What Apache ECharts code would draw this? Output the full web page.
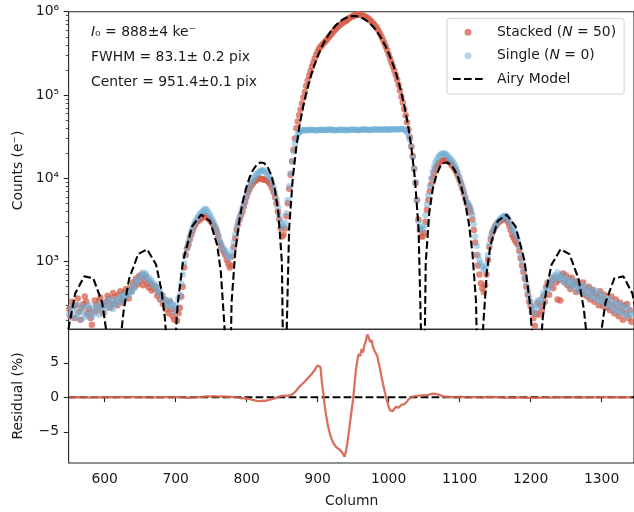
<!DOCTYPE html>
<html lang="en">
<head>
<meta charset="UTF-8">
<title>Airy profile fit</title>
<script src="https://cdn.jsdelivr.net/npm/echarts@6/dist/echarts.min.js"></script>
<style>
  html, body { margin: 0; padding: 0; background: #fff; }
  #main { width: 634px; height: 512px; }
</style>
</head>
<body>
<div id="main"></div>
<script>
  // measured profiles, one value every 2nd column starting at 550
  const colStart = 550, colStep = 2;

  // stacked frames (N = 50), counts in e-
  const stacked = [
    270, 220, 330, 290, 210, 300, 360, 250, 200, 280, 310, 380, 330, 240, 270, 210, 175, 250, 340, 300,
    260, 340, 370, 290, 240, 300, 330, 390, 360, 280, 310, 420, 380, 330, 300, 400, 440, 350, 320, 430,
    470, 420, 360, 480, 440, 560, 500, 620, 530, 660, 580, 700, 520, 610, 660, 540, 490, 560, 450, 520,
    470, 500, 390, 430, 350, 400, 310, 350, 270, 320, 240, 330, 270, 220, 200, 260, 195, 240, 280, 380,
    500, 850, 1200, 1450, 1600, 1850, 2100, 2350, 2600, 2800, 3000, 3100, 3200, 3300, 3400, 3550, 3500, 3400, 3300, 3150,
    3000, 2850, 2700, 2500, 2300, 2000, 1700, 1550, 1400, 1300, 1200, 1050, 950, 850, 900, 1150, 1500, 1900, 2400, 2800,
    3200, 3600, 4000, 4600, 5200, 6000, 6800, 7400, 8000, 8500, 9000, 9300, 9600, 9800, 10000, 9900, 9800, 9600, 9700, 9500,
    9200, 8800, 8300, 7600, 6800, 5900, 5000, 4000, 3200, 2500, 2000, 2100, 2500, 3500, 5000, 7500, 11000, 16000, 22000, 30000,
    40000, 48000, 57000, 67000, 79000, 93000, 109000, 128000, 148000, 170000, 193000, 219000, 246000, 274000, 303000, 332000, 360000, 380000, 396000, 414000,
    432000, 452000, 474000, 498000, 523000, 548000, 573000, 600000, 626000, 652000, 677000, 699000, 721000, 740000, 759000, 780000, 801000, 827000, 851000, 869000,
    884000, 905000, 922000, 925000, 924000, 918000, 909000, 897000, 882000, 865000, 846000, 820000, 792000, 759000, 725000, 695000, 664000, 626000, 586000, 544000,
    502000, 461000, 420000, 381000, 344000, 308000, 275000, 246000, 220000, 197000, 175000, 153000, 133000, 113000, 95000, 81000, 68000, 57000, 47000, 38500,
    31000, 24000, 18500, 13000, 8800, 5500, 3200, 2400, 2000, 2000, 2200, 3000, 4200, 5500, 7000, 8500, 10000, 11500, 13000, 14000,
    15000, 15500, 16000, 16300, 16500, 16600, 16500, 16000, 15500, 14800, 14000, 13300, 12500, 11500, 10500, 9500, 8500, 7500, 6500, 5700,
    5000, 4700, 4400, 3900, 3200, 2400, 1700, 1200, 900, 700, 550, 480, 430, 520, 700, 1050, 1500, 1850, 2200, 2400,
    2600, 2750, 2900, 3000, 3100, 3200, 3300, 3250, 3200, 3000, 2700, 2400, 2100, 1950, 1800, 1700, 1600, 1350, 1100, 900,
    750, 620, 500, 400, 330, 290, 250, 210, 170, 240, 320, 230, 300, 260, 380, 330, 500, 560, 400, 520,
    600, 480, 650, 560, 350, 600, 340, 680, 720, 560, 680, 520, 620, 470, 640, 520, 560, 430, 580, 460,
    500, 430, 560, 400, 470, 380, 500, 350, 420, 460, 330, 400, 380, 300, 440, 350, 290, 400, 330, 280,
    320, 260, 380, 300, 240, 350, 280, 220, 320, 260, 200, 300, 240, 310, 210, 260, 190
  ];

  // single frame (N = 0), saturated in the core
  const single = [
    230, 280, 210, 260, 300, 220, 240, 300, 200, 250, 280, 215, 230, 290, 300, 240, 215, 270, 240, 300,
    280, 230, 270, 320, 290, 250, 300, 340, 280, 350, 300, 270, 320, 350, 310, 360, 330, 390, 400, 350,
    380, 420, 400, 450, 430, 510, 480, 560, 600, 590, 680, 660, 740, 690, 720, 610, 650, 580, 600, 520,
    540, 470, 500, 420, 430, 360, 390, 320, 350, 290, 320, 340, 290, 310, 250, 300, 280, 360, 400, 540,
    700, 950, 1200, 1450, 1700, 2000, 2300, 2550, 2800, 3050, 3300, 3500, 3700, 3850, 4000, 4200, 4300, 4150, 3900, 3650,
    3400, 3150, 2900, 2650, 2400, 2100, 1800, 1650, 1500, 1400, 1350, 1250, 1150, 1100, 1200, 1400, 1700, 2100, 2600, 3000,
    3400, 3850, 4300, 4900, 5600, 6400, 7200, 8000, 8800, 9400, 10000, 10600, 11200, 11600, 12000, 12300, 12500, 12400, 12000, 11500,
    11000, 10400, 9800, 8800, 7800, 6700, 5600, 4500, 3600, 3000, 2600, 2700, 2900, 3800, 5500, 8000, 11500, 16000, 21000, 26000,
    30000, 33500, 35500, 36800, 37500, 37900, 38000, 37700, 37800, 38100, 38200, 38000, 38000, 37800, 37600, 37900, 38100, 38300, 38300, 38100,
    37900, 38000, 38200, 38300, 38400, 38200, 38000, 37800, 37700, 37900, 38100, 38200, 38300, 38100, 38000, 37900, 37800, 38000, 38200, 38300,
    38400, 38200, 38100, 38000, 37900, 38100, 38200, 38400, 38500, 38400, 38300, 38100, 38000, 38200, 38400, 38500, 38600, 38400, 38200, 38300,
    38500, 38600, 38700, 38500, 38300, 38400, 38600, 38800, 38900, 38700, 38500, 38600, 38800, 38900, 39000, 38800, 38400, 37500, 36000, 33000,
    29500, 24000, 18000, 13000, 9000, 5500, 3000, 2600, 2400, 2500, 2700, 3600, 4800, 6300, 8000, 10000, 12000, 13800, 15500, 16800,
    18000, 18800, 19500, 19800, 20000, 19600, 19000, 18300, 17500, 16800, 16000, 15000, 14000, 12800, 11500, 10200, 9000, 8000, 7000, 6000,
    5200, 5000, 4700, 4200, 3600, 2800, 2000, 1550, 1200, 1050, 950, 870, 800, 820, 900, 1200, 1600, 2000, 2300, 2500,
    2700, 2850, 3000, 3150, 3300, 3400, 3500, 3550, 3500, 3300, 3100, 2800, 2500, 2350, 2200, 2000, 1800, 1500, 1200, 1000,
    800, 650, 550, 450, 380, 330, 290, 270, 240, 300, 340, 280, 350, 330, 420, 400, 480, 450, 560, 500,
    640, 580, 690, 620, 740, 640, 700, 610, 660, 560, 620, 540, 610, 500, 560, 520, 590, 470, 520, 450,
    530, 440, 490, 420, 500, 400, 450, 380, 460, 370, 420, 360, 440, 340, 400, 330, 380, 310, 360, 300,
    360, 290, 330, 270, 320, 250, 300, 260, 310, 240, 280, 230, 290, 220, 270, 240, 230
  ];

  // residual of the stacked profile, % of peak
  const residual = [
    0.02, 0.00, -0.03, -0.01, 0.01, 0.02, 0.03, 0.00, -0.02, -0.01, 0.00, 0.01, 0.02, -0.01, -0.04, -0.03, -0.02, 0.00, 0.01, 0.02,
    0.03, 0.01, 0.00, -0.01, -0.02, 0.00, 0.02, 0.03, 0.04, 0.02, 0.01, 0.00, -0.01, 0.01, 0.03, 0.04, 0.05, 0.03, 0.02, 0.01,
    0.00, 0.02, 0.03, 0.04, 0.05, 0.05, 0.04, 0.03, 0.02, 0.01, 0.00, -0.01, -0.02, 0.00, 0.01, -0.01, -0.03, -0.04, -0.05, -0.03,
    -0.02, -0.01, 0.00, 0.01, 0.02, 0.02, 0.01, 0.02, 0.03, 0.02, 0.02, 0.01, 0.00, 0.01, 0.02, 0.03, 0.04, 0.03, 0.03, 0.01,
    0.00, -0.02, -0.03, -0.05, -0.06, -0.05, -0.04, -0.03, -0.02, -0.01, 0.00, 0.02, 0.04, 0.06, 0.08, 0.10, 0.12, 0.14, 0.15, 0.15,
    0.14, 0.15, 0.16, 0.14, 0.12, 0.11, 0.10, 0.12, 0.13, 0.12, 0.11, 0.10, 0.08, 0.07, 0.06, 0.05, 0.03, 0.01, -0.02, -0.05,
    -0.08, -0.11, -0.14, -0.13, -0.12, -0.15, -0.18, -0.24, -0.30, -0.36, -0.42, -0.46, -0.50, -0.53, -0.55, -0.54, -0.52, -0.51, -0.50, -0.47,
    -0.42, -0.36, -0.30, -0.24, -0.18, -0.11, -0.05, 0.03, 0.10, 0.15, 0.20, 0.22, 0.24, 0.25, 0.26, 0.28, 0.30, 0.40, 0.55, 0.75,
    1.0, 1.25, 1.5, 1.7, 1.9, 2.1, 2.3, 2.5, 2.75, 2.95, 3.2, 3.4, 3.7, 4.0, 4.3, 4.6, 4.8, 4.4, 2.2, 0.6,
    -1.2, -2.6, -3.8, -4.8, -5.5, -6.1, -6.6, -6.9, -7.2, -7.3, -7.5, -7.7, -7.9, -8.1, -8.6, -7.8, -6.6, -5.0, -3.4, -1.8,
    -0.3, 1.9, 4.0, 5.4, 6.3, 6.0, 7.0, 6.5, 7.6, 8.2, 9.1, 8.7, 8.0, 8.3, 7.3, 6.8, 6.6, 6.0, 5.0, 4.1,
    3.0, 2.0, 1.1, 0.2, -0.6, -1.3, -1.9, -2.1, -2.0, -1.7, -1.4, -1.6, -1.5, -1.3, -1.1, -1.1, -1.0, -0.8, -0.6, -0.3,
    -0.05, 0.04, 0.10, 0.15, 0.18, 0.20, 0.22, 0.25, 0.28, 0.29, 0.30, 0.31, 0.32, 0.36, 0.42, 0.48, 0.55, 0.53, 0.50, 0.46,
    0.42, 0.34, 0.25, 0.18, 0.12, 0.08, 0.05, 0.07, 0.10, 0.06, 0.02, -0.02, -0.05, 0.00, 0.06, 0.08, 0.10, 0.06, 0.02, -0.02,
    -0.06, -0.04, -0.02, 0.01, 0.03, 0.04, 0.05, 0.04, 0.02, -0.01, -0.04, -0.03, -0.02, 0.01, 0.04, 0.05, 0.06, 0.05, 0.03, 0.02,
    0.01, 0.02, 0.04, 0.01, -0.02, -0.04, -0.05, -0.04, -0.03, -0.05, -0.06, -0.07, -0.08, -0.07, -0.05, -0.03, -0.02, 0.00, 0.01, 0.00,
    -0.01, -0.03, -0.04, -0.06, -0.07, -0.09, -0.10, -0.09, -0.08, -0.07, -0.06, -0.05, -0.04, -0.03, -0.02, -0.01, 0.00, -0.01, -0.03, -0.05,
    -0.06, -0.05, -0.04, -0.02, -0.01, 0.01, 0.02, 0.01, 0.00, -0.01, -0.02, -0.03, -0.04, -0.02, -0.01, 0.00, 0.01, 0.00, -0.02, -0.03,
    -0.04, -0.03, -0.02, -0.01, 0.00, 0.01, 0.02, 0.01, -0.01, -0.02, -0.03, -0.02, -0.01, 0.00, 0.01, 0.02, 0.03, 0.02, 0.00, -0.01,
    -0.02, 0.00, 0.01, 0.02, 0.02, 0.01, -0.01, 0.00, 0.00, 0.01, 0.02, 0.01, -0.01, 0.00, 0.01, 0.01, 0.00
  ];

  // Airy model curve (column, counts)
  const modelCols = [
    545.9, 558.5, 571.2, 583.9, 596.5, 604.1, 609.2, 613.7, 621.8, 626.9,
    634.5, 647.2, 659.8, 672.5, 680.1, 685.1, 690.2, 693.5, 697.8, 702.9,
    710.5, 723.1, 735.8, 748.4, 758.6, 763.6, 768.7, 773.4, 778.8, 783.9,
    789.0, 794.0, 799.1, 804.1, 809.2, 814.3, 819.3, 824.4, 829.5, 834.5,
    839.6, 844.7, 849.7, 854.0, 854.8, 859.9, 864.9, 870.0, 875.0, 880.1,
    885.2, 890.2, 895.3, 900.4, 905.4, 910.5, 915.6, 920.6, 925.7, 930.7,
    935.8, 940.9, 945.9, 951.0, 956.1, 961.1, 966.2, 971.3, 976.3, 981.4,
    986.5, 991.5, 996.6, 1001.6, 1006.7, 1011.8, 1016.8, 1021.9, 1027.0, 1032.0,
    1037.1, 1042.2, 1047.2, 1048.0, 1052.3, 1057.3, 1062.4, 1067.5, 1072.5, 1077.6,
    1082.7, 1087.7, 1092.8, 1097.9, 1102.9, 1108.0, 1113.1, 1118.1, 1123.2, 1128.6,
    1133.3, 1138.4, 1143.4, 1153.6, 1166.2, 1178.9, 1191.5, 1199.1, 1204.2, 1208.5,
    1211.8, 1216.9, 1221.9, 1229.5, 1242.2, 1254.8, 1267.5, 1275.1, 1280.2, 1288.3,
    1292.8, 1297.9, 1305.5, 1318.1, 1330.8, 1343.5, 1356.1
  ];
  const modelCounts = [
    114, 413, 664, 632, 322, 115, 28, 1, 104, 266,
    622, 1231, 1403, 915, 447, 201, 41, 1, 67, 313,
    1021, 2637, 3667, 3055, 1566, 757, 171, 1, 327, 1270,
    2860, 5010, 7550, 10210, 12660, 14530, 15470, 15250, 13740, 11010,
    7550, 3870, 968, 1, 40, 2500, 9870, 23700, 45400, 76000,
    116500, 166900, 226900, 295300, 370700, 450700, 532200, 612500, 687900, 754800,
    811000, 852500, 879100, 888000, 879100, 852500, 811000, 754800, 687900, 612500,
    532200, 450700, 370700, 295300, 226900, 166900, 116500, 76000, 45400, 23700,
    9870, 2500, 40, 1, 968, 3870, 7550, 11010, 13740, 15250,
    15470, 14530, 12660, 10210, 7550, 5010, 2860, 1270, 327, 1,
    171, 757, 1566, 3055, 3667, 2637, 1021, 313, 67, 1,
    41, 201, 447, 915, 1403, 1231, 622, 266, 104, 1,
    28, 115, 322, 632, 664, 413, 114
  ];

  const xTicks = [600, 700, 800, 900, 1000, 1100, 1200, 1300];
  const decades = [3, 4, 5, 6];
  const resTicks = [-5, 0, 5];

  const FONT = 'DejaVu Sans';
  const INK = '#1a1a1a';
  const RED = '#d6604d';
  const BLUE = '#6baed6';

  const left = 68.6, width = 566.2;
  const xMin = 549.2, xMax = 1345.7;
  const logMin = 2.187, logMax = 6.0;
  const resMin = -9.52, resMax = 9.86;

  const cols = stacked.map((_, i) => colStart + i * colStep);
  const sup = { 3: '³', 4: '⁴', 5: '⁵', 6: '⁶' };

  // minor log ticks 2..9 x 10^n
  const minorTicks = [];
  for (let e = 2; e <= 5; e++) {
    for (let k = 2; k <= 9; k++) {
      const v = Math.log10(k * Math.pow(10, e));
      if (v > logMin && v < logMax) minorTicks.push(v);
    }
  }

  const legendNames = {
    'Stacked': '{t|Stacked (}{i|N}{t| = 50)}',
    'Single': '{t|Single (}{i|N}{t| = 0)}',
    'Airy Model': '{t|Airy Model}'
  };

  const myChart = echarts.init(document.getElementById('main'));
  const option = {
    animation: false,
    textStyle: { fontFamily: FONT },
    grid: [
      { left: left, top: 11.7, width: width, height: 317.6, show: true, borderColor: '#262626', borderWidth: 1.1 },
      { left: left, top: 329.3, width: width, height: 133.7, show: true, borderColor: '#262626', borderWidth: 1.1 }
    ],
    legend: {
      orient: 'vertical',
      left: 447,
      top: 18.3,
      padding: [6, 8, 7, 5],
      itemWidth: 30,
      itemHeight: 7,
      itemGap: 7.4,
      backgroundColor: 'rgba(255,255,255,0.8)',
      borderColor: '#d0d0d0',
      borderWidth: 1,
      borderRadius: 3,
      data: ['Stacked', 'Single', 'Airy Model'],
      formatter: name => legendNames[name],
      textStyle: {
        padding: [0, 0, 0, 9],
        lineHeight: 16,
        rich: {
          t: { fontFamily: FONT, fontSize: 13.9, color: INK, lineHeight: 16 },
          i: { fontFamily: FONT, fontSize: 13.9, color: INK, fontStyle: 'italic', lineHeight: 16 }
        }
      }
    },
    xAxis: [
      {
        gridIndex: 0, type: 'value', min: xMin, max: xMax,
        axisLine: { show: false }, axisTick: { show: false },
        axisLabel: { show: false }, splitLine: { show: false }
      },
      {
        gridIndex: 1, type: 'value', min: xMin, max: xMax,
        axisLine: { show: false },
        axisTick: { show: true, customValues: xTicks, length: 4.9, lineStyle: { color: '#262626', width: 1.1 } },
        axisLabel: { customValues: xTicks, fontSize: 13.9, color: INK, margin: 9.5, formatter: v => String(v) },
        splitLine: { show: false }
      }
    ],
    yAxis: [
      {
        gridIndex: 0, type: 'value', position: 'left', min: logMin, max: logMax,
        axisLine: { show: false },
        axisTick: { show: true, customValues: decades, length: 4.9, lineStyle: { color: '#262626', width: 1.1 } },
        axisLabel: {
          customValues: decades, fontSize: 13.9, color: INK, margin: 9.5,
          formatter: v => '10' + sup[Math.round(v)]
        },
        splitLine: { show: false }
      },
      {
        gridIndex: 0, type: 'value', position: 'left', min: logMin, max: logMax,
        axisLine: { show: false },
        axisTick: { show: true, customValues: minorTicks, length: 2.8, lineStyle: { color: '#262626', width: 0.8 } },
        axisLabel: { show: false },
        splitLine: { show: false }
      },
      {
        gridIndex: 1, type: 'value', position: 'left', min: resMin, max: resMax,
        axisLine: { show: false },
        axisTick: { show: true, customValues: resTicks, length: 4.9, lineStyle: { color: '#262626', width: 1.1 } },
        axisLabel: {
          customValues: resTicks, fontSize: 13.9, color: INK, margin: 9.5,
          formatter: v => (v < 0 ? '\u2212' + Math.abs(v) : String(v))
        },
        splitLine: { show: false }
      }
    ],
    series: [
      {
        name: 'Stacked', type: 'scatter', xAxisIndex: 0, yAxisIndex: 0,
        symbolSize: 6.5,
        itemStyle: { color: RED, opacity: 0.75 },
        data: stacked.map((v, i) => [cols[i], Math.log10(v)])
      },
      {
        name: 'Single', type: 'scatter', xAxisIndex: 0, yAxisIndex: 0,
        symbolSize: 6.5,
        itemStyle: { color: BLUE, opacity: 0.5 },
        data: single.map((v, i) => [cols[i], Math.log10(v)])
      },
      {
        name: 'Airy Model', type: 'line', xAxisIndex: 0, yAxisIndex: 0,
        symbol: 'none',
        itemStyle: { color: 'rgba(0,0,0,0)' },
        lineStyle: { color: '#000', width: 2.1, type: [7.7, 3.3] },
        data: modelCounts.map((v, i) => [modelCols[i], Math.log10(v)])
      },
      {
        type: 'line', xAxisIndex: 1, yAxisIndex: 2, symbol: 'none',
        lineStyle: { color: '#000', width: 2.1, type: [7.7, 3.3] },
        data: [[xMin, 0], [xMax, 0]]
      },
      {
        type: 'line', xAxisIndex: 1, yAxisIndex: 2, symbol: 'none',
        lineStyle: { color: RED, width: 2.3, opacity: 0.9 },
        data: residual.map((v, i) => [cols[i], v])
      }
    ],
    graphic: [
      {
        type: 'text', x: 91, y: 32.5,
        style: {
          text: '{i|I}{t|₀ = 888±4 ke⁻}', verticalAlign: 'middle',
          rich: {
            i: { fontFamily: FONT, fontSize: 13.9, fontStyle: 'italic', fill: INK },
            t: { fontFamily: FONT, fontSize: 13.9, fill: INK }
          }
        }
      },
      {
        type: 'text', x: 91, y: 57.5,
        style: { text: 'FWHM = 83.1± 0.2 pix', fontFamily: FONT, fontSize: 13.9, fill: INK, verticalAlign: 'middle' }
      },
      {
        type: 'text', x: 91, y: 82.5,
        style: { text: 'Center = 951.4±0.1 pix', fontFamily: FONT, fontSize: 13.9, fill: INK, verticalAlign: 'middle' }
      },
      {
        type: 'text', x: 18.5, y: 170.5, rotation: Math.PI / 2,
        style: { text: 'Counts (e⁻)', fontFamily: FONT, fontSize: 13.9, fill: INK, align: 'center', verticalAlign: 'middle' }
      },
      {
        type: 'text', x: 18.5, y: 396, rotation: Math.PI / 2,
        style: { text: 'Residual (%)', fontFamily: FONT, fontSize: 13.9, fill: INK, align: 'center', verticalAlign: 'middle' }
      },
      {
        type: 'text', x: 351.7, y: 501.7,
        style: { text: 'Column', fontFamily: FONT, fontSize: 13.9, fill: INK, align: 'center', verticalAlign: 'middle' }
      }
    ]
  };
  myChart.setOption(option);
</script>
</body>
</html>
